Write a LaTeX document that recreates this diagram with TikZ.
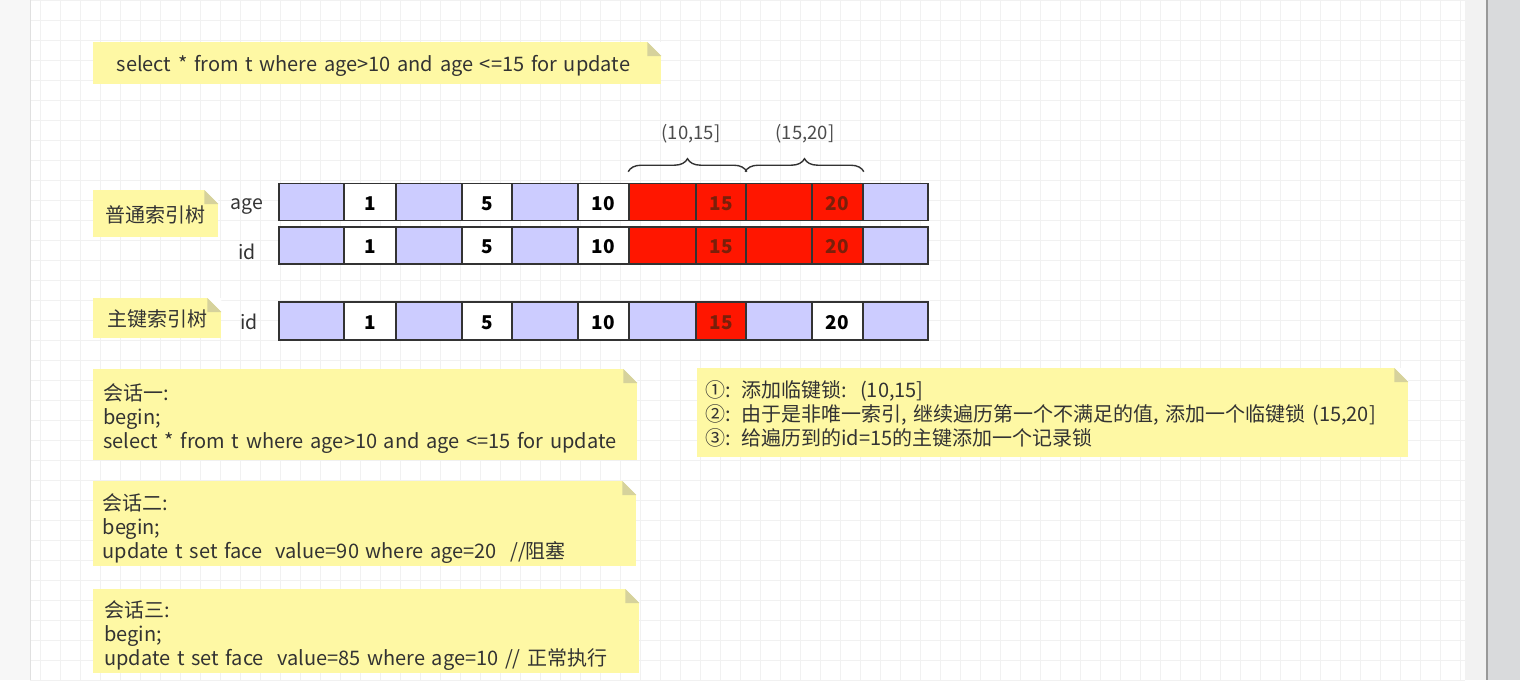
\documentclass[tikz,border=0pt]{standalone}
\usepackage{fontspec}
\setmainfont{Noto Sans CJK SC}
\usetikzlibrary{decorations.pathreplacing}
\setlength{\lineskiplimit}{-30pt}
\definecolor{noteY}{HTML}{FEF8A4}
\definecolor{foldC}{HTML}{D6D29C}
\definecolor{cellB}{HTML}{CCCCFF}
\definecolor{cellR}{HTML}{FF1600}
\definecolor{txtR}{HTML}{7A1F0A}
\definecolor{edgeC}{HTML}{333333}
\definecolor{gridC}{HTML}{F1F1F1}
\definecolor{txtC}{HTML}{333333}
\definecolor{sideC}{HTML}{D9DADC}
\tikzset{
  note/.style={fill=noteY, draw=none, inner sep=0pt, anchor=north west, font=\fontsize{20}{24}\selectfont, text=txtC},
  cellbox/.style={draw=edgeC, line width=1.6pt, inner sep=0pt, font=\fontsize{19}{20}\selectfont\bfseries, text=black!85},
  rowlabel/.style={font=\fontsize{19.5}{20}\selectfont, text=txtC},
  bracelbl/.style={font=\fontsize{18.5}{20}\selectfont, text=black!70},
  bracedeco/.style={draw=edgeC, line width=1.4pt, decorate, decoration={brace, amplitude=13pt}},
}
\newcommand{\foldcorner}[1]{%
  \fill[white] (#1.north east) -- ++(-14,0) -- ++(14,14) -- cycle;
  \fill[foldC] (#1.north east) ++(-14,0) -- ++(14,14) -- ++(-14,0) -- cycle;
}
\newcommand{\lowered}[2][3pt]{\raisebox{-#1}[\height][\depth]{#2}}
\begin{document}
\begin{tikzpicture}[x=1pt,y=-1pt]
\useasboundingbox (0,0) rectangle (1520,680);
\fill[white] (0,0) rectangle (1520,680);
% grid
\foreach \gx in {40,60,...,1460} \draw[gridC, line width=0.6pt] (\gx,0) -- (\gx,680);
\foreach \gy in {0,20,...,680} \draw[gridC, line width=0.6pt] (30,\gy) -- (1465,\gy);
% side strips
\fill[black!3] (0,0) rectangle (30,680);
\draw[black!12, line width=1pt] (30,0) -- (30,680);
\fill[black!5] (1465,0) rectangle (1487,680);
\fill[sideC] (1487,0) rectangle (1520,680);
\draw[black!40, line width=1.2pt] (1487,0) -- (1487,680);

% top query note
\node[note, minimum width=568pt, minimum height=42pt, text width=545pt, align=left] (q) at (93,42) {\hspace*{12pt}\lowered{select * from t where age>10 and age <=15 for update}};
\foldcorner{q}

% index tree labels
\node[note, minimum width=125pt, minimum height=47pt, align=center] (sec) at (93,190) {\lowered[1pt]{普通索引树}};
\foldcorner{sec}
\node[note, minimum width=128pt, minimum height=40pt, align=center] (pri) at (93,298) {\lowered[1pt]{主键索引树}};
\foldcorner{pri}

\node[rowlabel] (lage) at (247,204) {\lowered{age}};
\node[rowlabel] (lid1) at (247,249) {\lowered{id}};
\node[rowlabel] (lid2) at (249,319) {\lowered{id}};

% cells: index/left/right/fill/textcolor/text
\foreach \i/\l/\r/\f/\t/\s in {1/279/344/cellB/black/{},2/344/396/white/black/1,3/396/462/cellB/black/{},4/462/512/white/black/5,5/512/578/cellB/black/{},6/578/629/white/black/10,7/629/696/cellR/txtR/{},8/696/746/cellR/txtR/15,9/746/812/cellR/txtR/{},10/812/863/cellR/txtR/20,11/863/928/cellB/black/{}}{
  \node[cellbox, fill=\f, text=\t, minimum width={(\r-\l)*1pt}, minimum height=37pt] (a\i) at ({(\l+\r)/2},202) {\lowered[1.5pt]{\s}};
  \node[cellbox, fill=\f, text=\t, minimum width={(\r-\l)*1pt}, minimum height=37pt] (b\i) at ({(\l+\r)/2},245.5) {\lowered[1.5pt]{\s}};
}
\foreach \i/\l/\r/\f/\t/\s in {1/279/344/cellB/black/{},2/344/396/white/black/1,3/396/462/cellB/black/{},4/462/512/white/black/5,5/512/578/cellB/black/{},6/578/629/white/black/10,7/629/696/cellB/black/{},8/696/746/cellR/txtR/15,9/746/812/cellB/black/{},10/812/863/white/black/20,11/863/928/cellB/black/{}}{
  \node[cellbox, fill=\f, text=\t, minimum width={(\r-\l)*1pt}, minimum height=38pt] (c\i) at ({(\l+\r)/2},321) {\lowered[1.5pt]{\s}};
}

% braces
\draw[bracedeco] ([yshift=11pt]a7.north west) -- ([yshift=11pt]a8.north east) coordinate[midway] (br1);
\draw[bracedeco] ([yshift=11pt]a9.north west) -- ([yshift=11pt]a10.north east) coordinate[midway] (br2);
\node[bracelbl] (bl1) at (691,133) {\lowered[1pt]{(10,15]}};
\node[bracelbl] (bl2) at (805,133) {\lowered[1pt]{(15,20]}};

% session notes
\node[note, minimum width=544pt, minimum height=91pt, text width=534pt, align=left] (s1) at (93,369) {\hspace*{5pt}\lowered[4pt]{\parbox{530pt}{会话一:\\begin;\\select * from t where age>10 and age <=15 for update}}};
\foldcorner{s1}
\node[note, minimum width=543pt, minimum height=85pt, text width=534pt, align=left] (s2) at (93,481) {\hspace*{5pt}\lowered[5pt]{\parbox{530pt}{会话二:\\begin;\\update t set face\ \ value=90 where age=20\ \ //阻塞}}};
\foldcorner{s2}
\node[note, minimum width=546pt, minimum height=84pt, text width=534pt, align=left] (s3) at (93,589) {\hspace*{5pt}\lowered[4pt]{\parbox{530pt}{会话三:\\begin;\\update t set face\ \ value=85 where age=10 // 正常执行}}};
\foldcorner{s3}

% explanation note
\node[note, minimum width=711pt, minimum height=89pt, text width=700pt, align=left] (ex) at (697,368) {\hspace*{3pt}\lowered[1pt]{\parbox{695pt}{①: 添加临键锁:\ \ (10,15]\\②: 由于是非唯一索引, 继续遍历第一个不满足的值, 添加一个临键锁 (15,20]\\③: 给遍历到的id=15的主键添加一个记录锁}}};
\foldcorner{ex}
\end{tikzpicture}
\end{document}
